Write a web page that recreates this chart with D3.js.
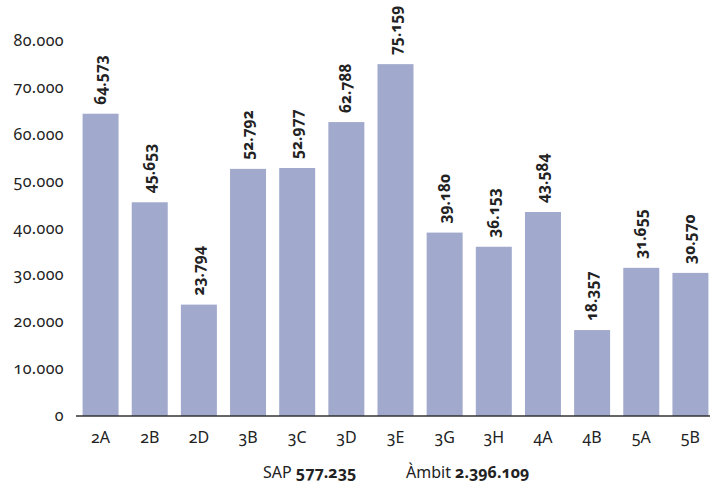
<!DOCTYPE html>
<html><head><meta charset="utf-8">
<script src="https://cdn.jsdelivr.net/npm/d3@7"></script>
<style>
body{margin:0;background:#fff;}
svg text{font-family:"Noto Sans",sans-serif;font-variant-numeric:oldstyle-nums;font-feature-settings:"onum" 1;fill:#222;}
</style></head><body>
<svg id="c" width="710" height="493"></svg>
<script>
const categories = ["2A","2B","2D","3B","3C","3D","3E","3G","3H","4A","4B","5A","5B"];
const values = [64573,45653,23794,52792,52977,62788,75159,39180,36153,43584,18357,31655,30570];
const yTicks = [0,10000,20000,30000,40000,50000,60000,70000,80000];
const footerSAP = "577.235";
const footerAmbit = "2.396.109";

const fmt = v => d3.format(",")(v).replace(/,/g, ".");
const svg = d3.select("#c");
const x = d3.scaleBand().domain(categories).range([76, 715]).paddingInner(0.268).paddingOuter(0.134);
const y = d3.scaleLinear().domain([0, 80000]).range([416, 41.5]);

// y labels
svg.append("g").selectAll("text").data(yTicks).join("text")
  .attr("x", 64).attr("y", d => y(d)).attr("dy", "0.3em")
  .attr("text-anchor", "end").attr("font-size", 16).attr("letter-spacing", 0.4)
  .text(d => d === 0 ? "0" : fmt(d));

// bars
svg.append("g").selectAll("rect").data(values).join("rect")
  .attr("x", (d, i) => x(categories[i])).attr("width", x.bandwidth())
  .attr("y", d => y(d)).attr("height", d => y(0) - y(d))
  .attr("fill", "#a1a9cc");

// axis line
svg.append("line").attr("x1", 76).attr("x2", 710).attr("y1", y(0)).attr("y2", y(0))
  .attr("stroke", "#333").attr("stroke-width", 1.5);

// x labels
svg.append("g").selectAll("text").data(categories).join("text")
  .attr("x", d => x(d) + x.bandwidth() / 2).attr("y", 443)
  .attr("text-anchor", "middle").attr("font-size", 16)
  .text(d => d);

// value labels
svg.append("g").selectAll("text").data(values).join("text")
  .attr("transform", (d, i) => `translate(${x(categories[i]) + x.bandwidth() / 2 + 5},${y(d) - 9}) rotate(-90)`)
  .attr("text-anchor", "start").attr("font-size", 15.5).attr("font-weight", "bold")
  .text(d => fmt(d));

// footer
const f = svg.append("text").attr("y", 478).attr("font-size", 16);
f.append("tspan").attr("x", 263).text("SAP ");
f.append("tspan").attr("font-weight", "bold").text(footerSAP);
const f2 = svg.append("text").attr("y", 478).attr("font-size", 16);
f2.append("tspan").attr("x", 406).text("Àmbit ");
f2.append("tspan").attr("font-weight", "bold").text(footerAmbit);
</script></body></html>
